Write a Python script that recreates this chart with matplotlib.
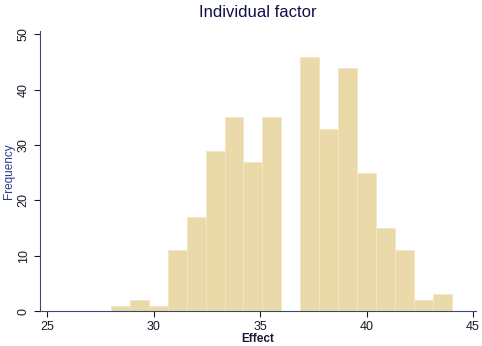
import numpy as np
import matplotlib
matplotlib.use('Agg')
from matplotlib import pyplot as plt

plt.rcParams['font.family'] = ['Liberation Sans', 'DejaVu Sans']

# histogram counts, 18 bins from 28 to 44
bin_start = 28
bin_end = 44
counts = [1, 2, 1, 11, 17, 29, 35, 27, 35, 0, 46, 33, 44, 25, 15, 11, 2, 3]
x_ticks = [25, 30, 35, 40, 45]
y_ticks = [0, 10, 20, 30, 40, 50]

edges = np.linspace(bin_start, bin_end, len(counts) + 1)

fig = plt.figure(figsize=(4.82, 3.46), dpi=100)
ax = fig.add_axes([0.083, 0.101, 0.905, 0.809])

ax.hist(edges[:-1], bins=edges, weights=counts, color='#EBDAA9',
        edgecolor='#F2E6C4', linewidth=0.6)

ax.set_xlim(24.67, 45.15)
ax.set_ylim(0, 50.6)
ax.set_xticks(x_ticks)
ax.set_yticks(y_ticks)
ax.set_yticklabels([str(v) for v in y_ticks], rotation=90, va='center')

for s in ['top', 'right']:
    ax.spines[s].set_visible(False)
ax.spines['left'].set_color('#3A4A6A')
ax.spines['bottom'].set_color('#3A4A6A')
ax.tick_params(colors='#1A1A2A', labelsize=9, length=4, width=0.8)

ax.set_title('Individual factor', fontsize=12, color='#10104A', pad=10)
ax.set_xlabel('Effect', fontsize=8.5, fontweight='bold', color='#1A1A3A', labelpad=0)
ax.set_ylabel('Frequency', fontsize=8.5, color='#2A3A8A', labelpad=2)

fig.savefig('out.png', dpi=100)
